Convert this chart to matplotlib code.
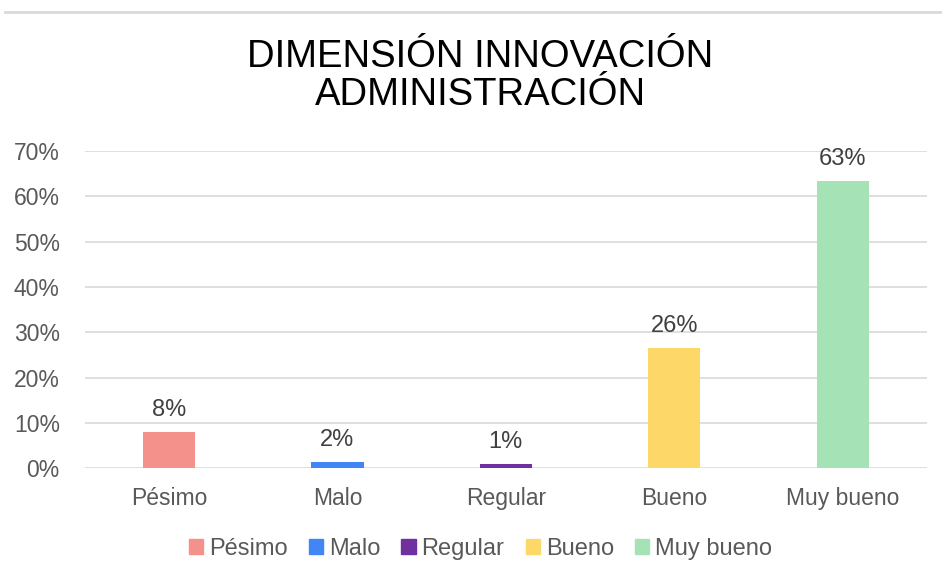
import matplotlib
matplotlib.use("Agg")
import matplotlib.pyplot as plt
from matplotlib.ticker import PercentFormatter

categories = ["Pésimo", "Malo", "Regular", "Bueno", "Muy bueno"]
values = [0.08, 0.014, 0.009, 0.265, 0.634]
labels = ["8%", "2%", "1%", "26%", "63%"]
colors = ["#F4918A", "#4285F4", "#7030A0", "#FDD868", "#A5E3B7"]
title = "DIMENSIÓN INNOVACIÓN\nADMINISTRACIÓN"

body_font = "Liberation Sans"

fig = plt.figure(figsize=(9.42, 5.75), dpi=100)
ax = fig.add_axes([0.090, 0.186, 0.894, 0.551])
x = list(range(len(categories)))
ax.bar(x, values, width=0.31, color=colors, zorder=3)
for xi, v, lab in zip(x, values, labels):
    ax.text(xi, v + 0.024, lab, ha="center", va="bottom", fontsize=17,
            color="#404040", family=body_font)
ax.set_xlim(-0.5, 4.5)
ax.set_ylim(0, 0.7)
ax.set_yticks([i / 10 for i in range(8)])
ax.yaxis.set_major_formatter(PercentFormatter(1.0, decimals=0))
ax.grid(axis="y", color="#D9D9D9", linewidth=1.2, zorder=0)
for s in ax.spines.values():
    s.set_visible(False)
ax.tick_params(length=0, labelsize=16.5, labelcolor="#595959")
ax.tick_params(axis="x", pad=14)
ax.tick_params(axis="y", pad=18)
ax.set_xticks(x)
ax.set_xticklabels(categories, family=body_font)
for t in ax.get_yticklabels():
    t.set_family(body_font)

fig.text(0.51, 0.868, title, ha="center", va="center", fontsize=27.5,
         family=body_font, color="#000000", linespacing=1.05)

handles = [plt.Rectangle((0, 0), 1, 1, color=c) for c in colors]
fig.legend(handles, categories, loc="center", bbox_to_anchor=(0.51, 0.045),
           ncol=5, frameon=False, prop={"family": body_font, "size": 17},
           handlelength=0.6, handleheight=0.6, handletextpad=0.25,
           columnspacing=0.9, labelcolor="#595959")

fig.add_artist(plt.Line2D([0.005, 1.0], [1 - 12 / 575, 1 - 12 / 575],
                          color="#D9D9D9", linewidth=2, transform=fig.transFigure))

fig.savefig("out.png", dpi=100, facecolor="white")
